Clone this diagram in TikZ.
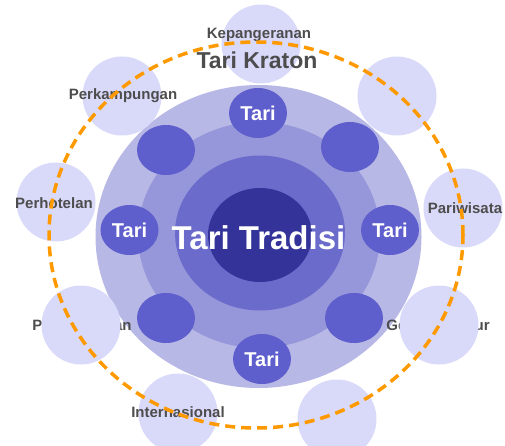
\documentclass[tikz,border=0pt]{standalone}
\usepackage{fontspec}
\setmainfont{Liberation Sans}
\usetikzlibrary{shapes.geometric}
\definecolor{ringA}{RGB}{184,184,230}
\definecolor{ringB}{RGB}{150,150,218}
\definecolor{ringC}{RGB}{107,107,204}
\definecolor{ringD}{RGB}{51,51,153}
\definecolor{satcol}{RGB}{94,94,204}
\definecolor{outcol}{RGB}{217,217,250}
\definecolor{labcol}{RGB}{77,77,77}
\definecolor{orangecol}{RGB}{255,153,0}
\tikzset{
  disk/.style={ellipse, draw=none, inner sep=0pt},
  satellite/.style={ellipse, fill=satcol, draw=none, inner sep=0pt, minimum width=58pt, minimum height=50pt},
  outercirc/.style={circle, fill=outcol, draw=none, inner sep=0pt, minimum size=79pt},
  lab/.style={anchor=base, text=labcol, font=\fontsize{15}{15}\selectfont\bfseries, inner sep=0pt},
  tarilab/.style={text=white, font=\fontsize{20}{20}\selectfont\bfseries, inner sep=0pt},
  orangering/.style={draw=orangecol, line width=3.5pt, dash pattern=on 10pt off 6pt, ellipse, inner sep=0pt, fill=none}
}
\begin{document}
\begin{tikzpicture}[x=1pt,y=-1pt]
\useasboundingbox (0,0) rectangle (505,446);
% central concentric disks
\node[disk, fill=ringA, minimum width=326pt, minimum height=303pt] (dA) at (258.5,236.5) {};
\node[disk, fill=ringB, minimum width=242pt, minimum height=226pt] (dB) at (259,235) {};
\node[disk, fill=ringC, minimum width=170pt, minimum height=155pt] (dC) at (260,233) {};
\node[disk, fill=ringD, minimum width=104pt, minimum height=94pt] (dD) at (260,235) {};
% hidden labels (under circles)
\node[lab] (lPem) at (82,330) {Pemerintahan};
\node[lab] (lGed) at (438,330) {Gedung Luhur};
% outer light circles
\node[outercirc] (oT) at (261,44) {};
\node[outercirc] (oUL) at (122,96) {};
\node[outercirc] (oUR) at (397,96) {};
\node[outercirc] (oL) at (56,202) {};
\node[outercirc] (oR) at (463,208) {};
\node[outercirc] (oLL) at (81,325) {};
\node[outercirc] (oLR) at (439,325) {};
\node[outercirc] (oBL) at (178,413) {};
\node[outercirc] (oBR) at (337,419) {};
% satellites
\node[satellite] (sT) at (258,113) {};
\node[satellite] (sUL) at (166,150) {};
\node[satellite] (sUR) at (350,147) {};
\node[satellite] (sL) at (129.5,230) {};
\node[satellite] (sR) at (390,230) {};
\node[satellite] (sLL) at (166,318) {};
\node[satellite] (sLR) at (354,318) {};
\node[satellite] (sB) at (262,359) {};
\node[tarilab] (tT) at (sT) {Tari};
\node[tarilab] (tL) at (sL) {Tari};
\node[tarilab] (tR) at (sR) {Tari};
\node[tarilab] (tB) at (sB) {Tari};
% labels
\node[lab] (lKep) at (259,39) {Kepangeranan};
\node[anchor=base, text=labcol, font=\fontsize{23}{23}\selectfont\bfseries, inner sep=0pt] (lKra) at (257,69) {Tari Kraton};
\node[lab] (lKam) at (123,100) {Perkampungan};
\node[lab] (lHot) at (54,208) {Perhotelan};
\node[lab] (lPar) at (465,213) {Pariwisata};
\node[lab] (lInt) at (178,417) {Internasional};
\node[anchor=base, text=white, font=\fontsize{33}{33}\selectfont\bfseries, inner sep=0pt] (lTra) at (258.5,249) {Tari Tradisi};
% dashed orange ring
\node[orangering, minimum width=414pt, minimum height=386pt] (ring) at (256,235) {};
\end{tikzpicture}
\end{document}
